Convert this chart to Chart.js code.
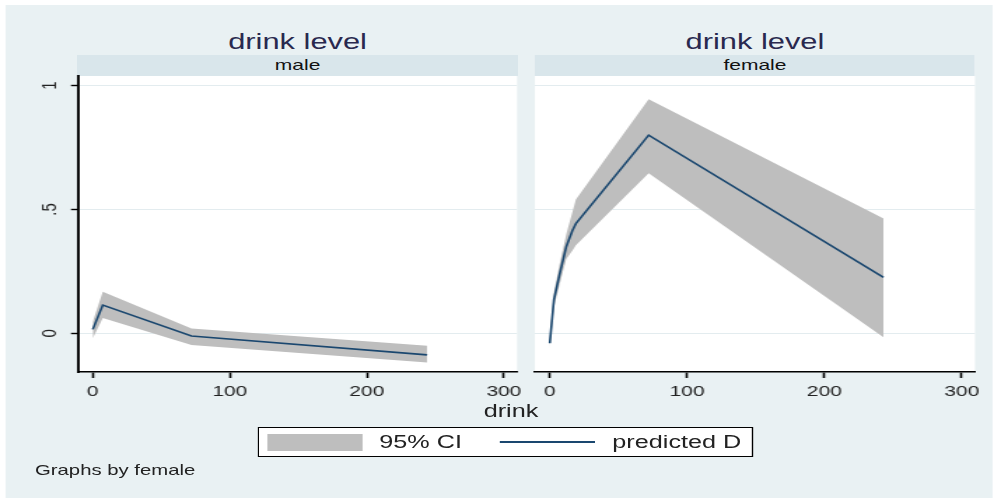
<!DOCTYPE html>
<html>
<head>
<meta charset="utf-8">
<script src="https://cdn.jsdelivr.net/npm/chart.js"></script>
<style>
  html, body { margin: 0; padding: 0; background: #fff; width: 1001px; height: 500px; overflow: hidden; }
  /* The whole graph is laid out on a 715px-wide stage and widened to 1001px. */
  #stage { position: absolute; left: 0; top: 0; width: 715px; height: 500px;
           transform: scaleX(1.4); transform-origin: 0 0;
           font-family: "Liberation Sans", Arial, sans-serif; }
  #bg { position: absolute; left: 3.6px; top: 5px; width: 705px; height: 493px; background: #e9f1f3; }
  .title { position: absolute; top: 29px; width: 314.3px; text-align: center;
           font-size: 22px; line-height: 26px; color: #29294f; white-space: nowrap; }
  .strip { position: absolute; top: 55px; height: 20.7px; width: 314.3px; background: #d9e6eb;
           text-align: center; font-size: 15px; line-height: 20.7px; color: #111; }
  canvas { position: absolute; top: 0; }
  #xtitle { position: absolute; left: 315px; width: 100px; top: 401px; text-align: center;
            font-size: 18px; line-height: 20px; color: #222; }
  #legend { position: absolute; left: 184.3px; top: 427px; width: 352px; height: 28px;
            border: 1.5px solid #000; background: #fff; }
  #legend .swatch { position: absolute; left: 5.6px; top: 5.5px; width: 68.6px; height: 17px; background: #bebebe; }
  #legend .line { position: absolute; left: 172.1px; top: 13.3px; width: 67.8px; height: 1.5px; background: #1a476f; }
  #legend .lab { position: absolute; top: 0; font-size: 18px; line-height: 28px; color: #222; white-space: nowrap; }
  #note { position: absolute; left: 25px; top: 462px; font-size: 14.5px; line-height: 16px; color: #222; white-space: nowrap; }
</style>
</head>
<body>
<div id="stage">
  <div id="bg"></div>
  <div class="title" style="left:55.4px">drink level</div>
  <div class="title" style="left:382.1px">drink level</div>
  <div class="strip" style="left:55.4px">male</div>
  <div class="strip" style="left:382.1px">female</div>
  <canvas id="cMale" width="385" height="500" style="left:0;width:385px;height:500px"></canvas>
  <canvas id="cFemale" width="343" height="500" style="left:372px;width:343px;height:500px"></canvas>
  <div id="xtitle">drink</div>
  <div id="legend">
    <div class="swatch"></div>
    <div class="lab" style="left:85.6px">95% CI</div>
    <div class="line"></div>
    <div class="lab" style="left:252.1px">predicted D</div>
  </div>
  <div id="note">Graphs by female</div>
</div>

<script>
// Predicted D with 95% confidence band, by drink level
const drinkMale   = [0, 7.3, 72, 244];
const predMale    = [0.016, 0.114, -0.011, -0.087];
const ciLowMale   = [-0.020, 0.062, -0.047, -0.118];
const ciHighMale  = [0.047, 0.168, 0.020, -0.050];

const drinkFemale  = [0, 3, 7, 12, 16.5, 19, 72, 243];
const predFemale   = [-0.040, 0.135, 0.235, 0.350, 0.415, 0.443, 0.800, 0.226];
const ciLowFemale  = [-0.060, 0.105, 0.195, 0.300, 0.335, 0.356, 0.646, -0.016];
const ciHighFemale = [-0.020, 0.165, 0.275, 0.400, 0.490, 0.540, 0.945, 0.464];

const xTicks = [0, 100, 200, 300];
const yTicks = [0, 0.5, 1];
const yTickLabels = ['0', '.5', '1'];

const LINE = '#1a476f';
const BAND = '#bebebe';
const GRID = '#e3ecef';
const FONT = { family: '"Liberation Sans", Arial, sans-serif', size: 15 };

const pts = (xs, ys) => xs.map((x, i) => ({ x: x, y: ys[i] }));

// white plot region behind the marks
const plotRegion = {
  id: 'plotRegion',
  beforeDraw(chart) {
    const a = chart.chartArea, ctx = chart.ctx;
    ctx.save();
    ctx.fillStyle = '#ffffff';
    ctx.fillRect(a.left, a.top, a.right - a.left, a.bottom - a.top);
    ctx.restore();
  }
};

function makePanel(canvasId, xs, pred, lo, hi, showYAxis, padding) {
  return new Chart(document.getElementById(canvasId), {
    type: 'line',
    data: {
      datasets: [
        { label: 'predicted D', data: pts(xs, pred), borderColor: LINE, borderWidth: 1.6,
          pointRadius: 0, fill: false, tension: 0 },
        { label: '95% CI upper', data: pts(xs, hi), borderColor: 'rgba(0,0,0,0)', borderWidth: 0,
          backgroundColor: BAND, pointRadius: 0, fill: '+1', tension: 0 },
        { label: '95% CI lower', data: pts(xs, lo), borderColor: 'rgba(0,0,0,0)', borderWidth: 0,
          pointRadius: 0, fill: false, tension: 0 }
      ]
    },
    options: {
      responsive: false,
      animation: false,
      events: [],
      layout: { padding: padding },
      plugins: { legend: { display: false }, tooltip: { enabled: false }, title: { display: false } },
      scales: {
        x: {
          type: 'linear',
          min: -10.8, max: 309.6,
          afterBuildTicks: (axis) => { axis.ticks = xTicks.map(v => ({ value: v })); },
          afterFit: (axis) => { axis.height = 28; },
          ticks: { font: FONT, color: '#222', padding: 5, maxRotation: 0, minRotation: 0, autoSkip: false,
                   callback: (v) => String(v) },
          grid: { drawOnChartArea: false, drawTicks: true, tickLength: 6, tickColor: '#000', tickWidth: 1.6 },
          border: { display: true, color: '#000', width: 1.6 }
        },
        y: {
          type: 'linear',
          min: -0.156, max: 1.039,
          afterBuildTicks: (axis) => { axis.ticks = yTicks.map(v => ({ value: v })); },
          afterFit: (axis) => { axis.width = showYAxis ? 55.7 : 0; },
          ticks: showYAxis
            ? { display: true, font: FONT, color: '#222', padding: 8.75, minRotation: 90, maxRotation: 90,
                crossAlign: 'center', autoSkip: false,
                callback: (v, i) => yTickLabels[i] }
            : { display: false },
          grid: showYAxis
            ? { color: GRID, lineWidth: 1, drawTicks: true, tickLength: 5, tickColor: '#000', tickWidth: 1.4 }
            : { color: GRID, lineWidth: 1, drawTicks: false },
          border: { display: showYAxis, color: '#000', width: 1.9 }
        }
      }
    },
    plugins: [plotRegion]
  });
}

makePanel('cMale', drinkMale, predMale, ciLowMale, ciHighMale, true,
          { left: 0, top: 76, right: 15.7, bottom: 100 });
makePanel('cFemale', drinkFemale, predFemale, ciLowFemale, ciHighFemale, false,
          { left: 10.1, top: 76, right: 18.6, bottom: 100 });
</script>
</body>
</html>
